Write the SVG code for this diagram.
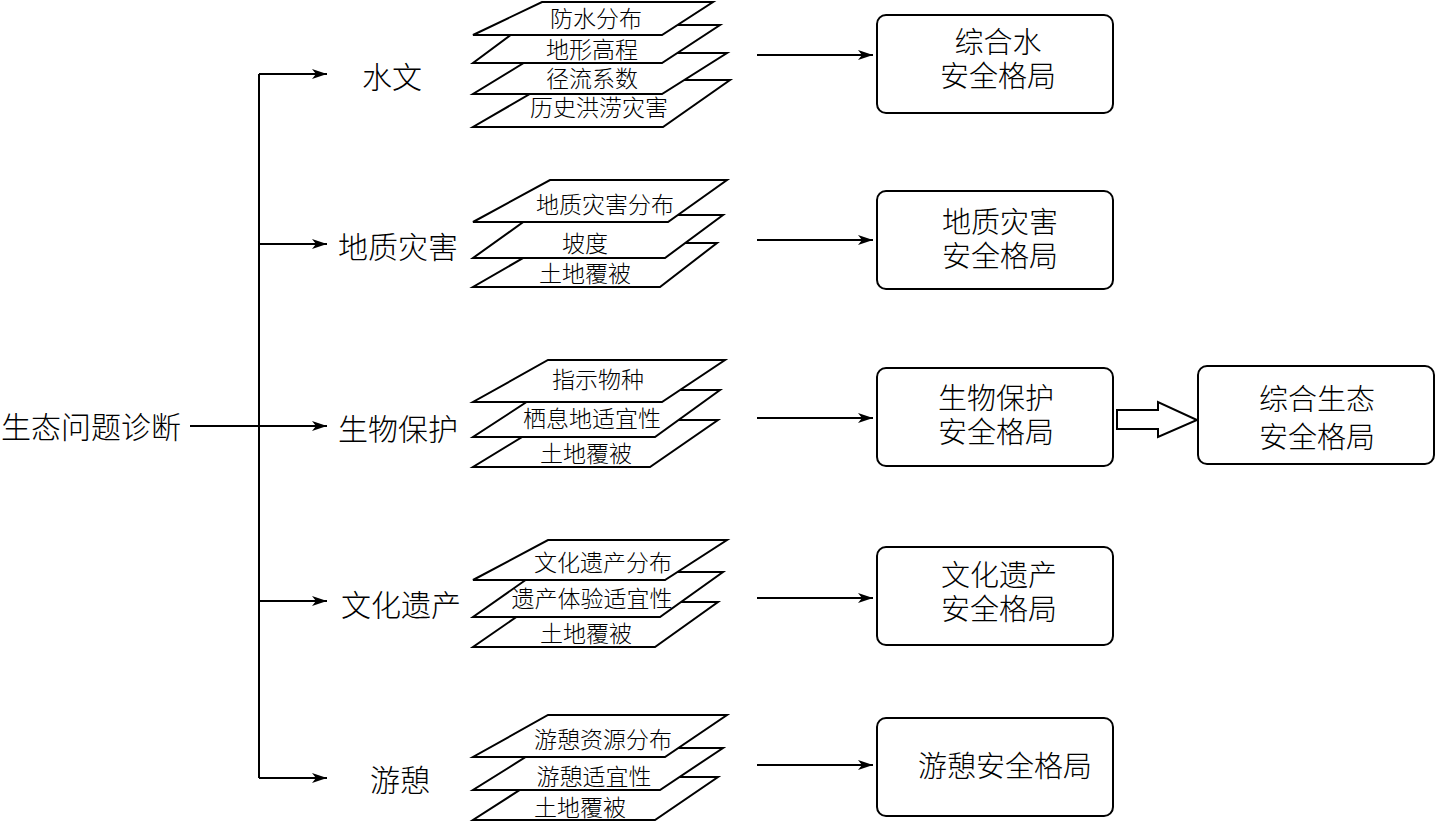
<svg xmlns="http://www.w3.org/2000/svg" width="1436" height="823" viewBox="0 0 1436 823">
<style>
text{font-family:"Liberation Sans","Noto Sans CJK SC","Noto Sans CJK JP",sans-serif;font-weight:300;fill:#000;dominant-baseline:central;text-anchor:middle}
.lbl{font-size:30px}
.lay{font-size:23px}
.box{font-size:29px}
.layer{fill:#fff;stroke:#000;stroke-width:2;stroke-linejoin:miter}
.bx{fill:#fff;stroke:#000;stroke-width:2}
.ln{fill:none;stroke:#000;stroke-width:2}
</style>
<defs>
<marker id="ah" markerUnits="userSpaceOnUse" markerWidth="16" markerHeight="10" refX="15" refY="5" orient="auto">
<path d="M0,0 L15,5 L0,10 L4,5 z" fill="#000"/>
</marker>
</defs>

<g id="connectors">
<line class="ln" x1="259" y1="74" x2="259" y2="778"/>
<line class="ln" x1="190" y1="426" x2="327" y2="426" marker-end="url(#ah)"/>
<line class="ln" x1="259" y1="74" x2="327" y2="74" marker-end="url(#ah)"/>
<line class="ln" x1="259" y1="244" x2="327" y2="244" marker-end="url(#ah)"/>
<line class="ln" x1="259" y1="601" x2="327" y2="601" marker-end="url(#ah)"/>
<line class="ln" x1="259" y1="778" x2="327" y2="778" marker-end="url(#ah)"/>
<line class="ln" x1="757" y1="55" x2="873" y2="55" marker-end="url(#ah)"/>
<line class="ln" x1="757" y1="240" x2="873" y2="240" marker-end="url(#ah)"/>
<line class="ln" x1="757" y1="418" x2="873" y2="418" marker-end="url(#ah)"/>
<line class="ln" x1="757" y1="598" x2="873" y2="598" marker-end="url(#ah)"/>
<line class="ln" x1="757" y1="765" x2="873" y2="765" marker-end="url(#ah)"/>
<polygon class="ln" points="1117,410 1158,410 1158,402 1197,420 1158,437 1158,429 1117,429"/>
</g>

<g id="root"><text class="lbl" x="91" y="427">生态问题诊断</text></g>

<g id="cat-hydro"><text class="lbl" x="392" y="77">水文</text></g>
<g id="cat-geo"><text class="lbl" x="398" y="247">地质灾害</text></g>
<g id="cat-bio"><text class="lbl" x="398" y="429">生物保护</text></g>
<g id="cat-culture"><text class="lbl" x="401" y="605">文化遗产</text></g>
<g id="cat-rec"><text class="lbl" x="400" y="780">游憩</text></g>

<g id="stack-hydro">
<polygon class="layer" points="554,80 730,80 663,127 473,127"/>
<text class="lay" x="599" y="108">历史洪涝灾害</text>
<polygon class="layer" points="540,53 727,53 662,94 473,94"/>
<text class="lay" x="592" y="79">径流系数</text>
<polygon class="layer" points="524,25 720,25 662,63 473,63"/>
<text class="lay" x="592" y="50">地形高程</text>
<polygon class="layer" points="542,2 713,2 662,35 473,35"/>
<text class="lay" x="596" y="19">防水分布</text>
</g>

<g id="stack-geo">
<polygon class="layer" points="549,243 717,243 660,287 473,287"/>
<text class="lay" x="585" y="274">土地覆被</text>
<polygon class="layer" points="533,215 723,215 665,258 473,258"/>
<text class="lay" x="585" y="244">坡度</text>
<polygon class="layer" points="550,180 727,180 668,222 473,222"/>
<text class="lay" x="605" y="205">地质灾害分布</text>
</g>

<g id="stack-bio">
<polygon class="layer" points="550,420 718,420 650,467 473,467"/>
<text class="lay" x="586" y="454">土地覆被</text>
<polygon class="layer" points="545,390 720,390 655,437 473,437"/>
<text class="lay" x="592" y="419">栖息地适宜性</text>
<polygon class="layer" points="548,360 725,360 662,402 473,402"/>
<text class="lay" x="598" y="380">指示物种</text>
</g>

<g id="stack-culture">
<polygon class="layer" points="538,602 718,602 655,647 473,647"/>
<text class="lay" x="586" y="634">土地覆被</text>
<polygon class="layer" points="537,572 723,572 660,617 473,617"/>
<text class="lay" x="592" y="599">遗产体验适宜性</text>
<polygon class="layer" points="548,540 727,540 665,580 473,580"/>
<text class="lay" x="603" y="563">文化遗产分布</text>
</g>

<g id="stack-rec">
<polygon class="layer" points="540,777 718,777 655,820 473,820"/>
<text class="lay" x="580" y="808">土地覆被</text>
<polygon class="layer" points="540,748 723,748 660,790 473,790"/>
<text class="lay" x="594" y="777">游憩适宜性</text>
<polygon class="layer" points="548,715 727,715 665,757 473,757"/>
<text class="lay" x="603" y="740">游憩资源分布</text>
</g>

<g id="box-water">
<rect class="bx" x="877" y="15" width="236" height="98" rx="9"/>
<text class="box" x="998" y="43">综合水</text>
<text class="box" x="998" y="77">安全格局</text>
</g>
<g id="box-geo">
<rect class="bx" x="877" y="191" width="236" height="98" rx="9"/>
<text class="box" x="1000" y="223">地质灾害</text>
<text class="box" x="1000" y="257">安全格局</text>
</g>
<g id="box-bio">
<rect class="bx" x="877" y="368" width="236" height="98" rx="9"/>
<text class="box" x="996" y="399">生物保护</text>
<text class="box" x="996" y="433">安全格局</text>
</g>
<g id="box-culture">
<rect class="bx" x="877" y="547" width="236" height="98" rx="9"/>
<text class="box" x="999" y="576">文化遗产</text>
<text class="box" x="999" y="610">安全格局</text>
</g>
<g id="box-rec">
<rect class="bx" x="877" y="718" width="236" height="98" rx="9"/>
<text class="box" x="1005" y="767">游憩安全格局</text>
</g>
<g id="box-eco">
<rect class="bx" x="1198" y="366" width="236" height="98" rx="9"/>
<text class="box" x="1317" y="400">综合生态</text>
<text class="box" x="1317" y="438">安全格局</text>
</g>
</svg>
